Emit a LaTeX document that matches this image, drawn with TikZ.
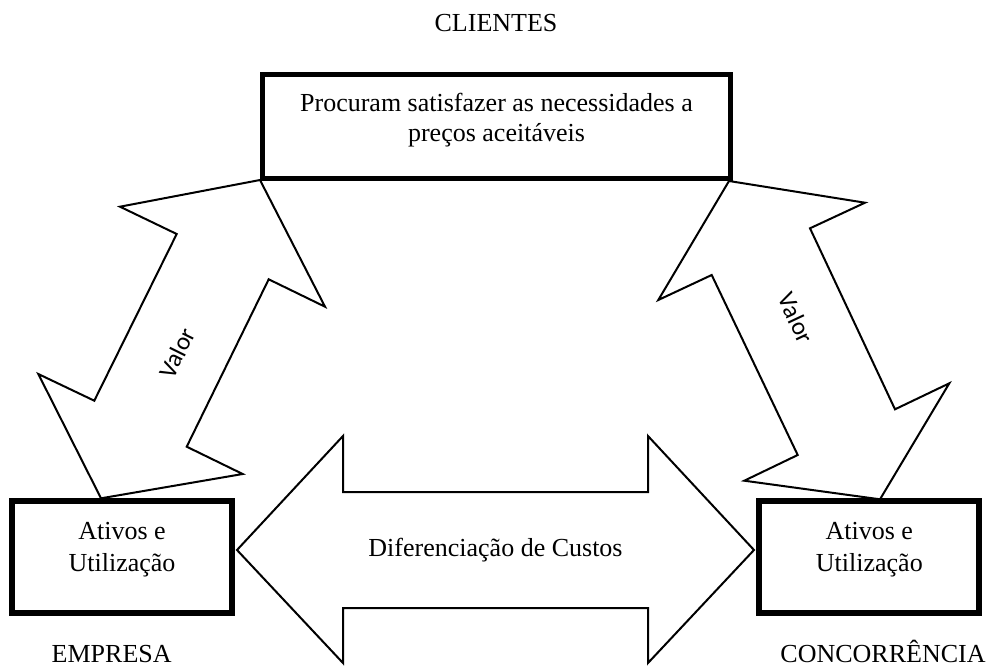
\documentclass[tikz,border=0pt]{standalone}
\usepackage{fontspec}
\setmainfont{Liberation Serif}
\newfontfamily\valorfont{Carlito}
\begin{document}
\begin{tikzpicture}[x=1pt,y=-1pt,
  box/.style={draw, inner sep=0pt, fill=white},
  fat/.style={draw, line width=2pt, fill=white, line join=miter},
  lbl/.style={inner sep=0pt, align=center, font=\fontsize{26}{30}\selectfont},
  vlbl/.style={inner sep=0pt, font=\valorfont\fontsize{25}{28}\selectfont}]
\useasboundingbox (0,0) rectangle (993,667);

% fat double arrows
\draw[fat] (260,180) -- (120,206.7) -- (176.7,234) -- (94.3,400.7) -- (38.3,374)
  -- (101,498.3) -- (242.7,474) -- (186.7,446.7) -- (268.7,279.3) -- (325,306.7) -- cycle;
\draw[fat] (729,181) -- (865,202.7) -- (810,228.3) -- (895,409.3) -- (949.3,383.3)
  -- (880,499.3) -- (744.3,480.7) -- (797.7,455) -- (711.7,275) -- (658.3,300) -- cycle;
\draw[fat] (237,550) -- (343,436) -- (343,492) -- (648,492) -- (648,436) -- (754,550)
  -- (648,663) -- (648,608) -- (343,608) -- (343,663) -- cycle;

% boxes
\node[box, line width=5pt, minimum width=468pt, minimum height=104pt] (top) at (496.5,126) {};
\node[box, line width=6pt, minimum width=220pt, minimum height=112pt] (emp) at (122,557) {};
\node[box, line width=6pt, minimum width=220pt, minimum height=112pt] (conc) at (869.3,557) {};

% texts
\node[lbl] (toptxt) at (496.5,120.6) {Procuram satisfazer as necessidades a\\preços aceitáveis};
\node[lbl, font=\fontsize{26}{31.7}\selectfont] (emptxt) at (122,549.5) {Ativos e\\Utilização};
\node[lbl, font=\fontsize{26}{31.7}\selectfont] (conctxt) at (869.3,549.5) {Ativos e\\Utilização};
\node[lbl, anchor=base] (dif) at (495.5,556.7) {Diferenciação de Custos};
\node[lbl, anchor=base] (cli) at (496,31.7) {CLIENTES};
\node[lbl, anchor=base, text depth=0pt] (empl) at (111.7,662) {EMPRESA};
\node[lbl, anchor=base, text depth=0pt] (concl) at (883,662) {CONCORRÊNCIA};
\node[vlbl, rotate=63.6] (v1) at (177,353) {Valor};
\node[vlbl, rotate=-64.8] (v2) at (796,318) {Valor};
\end{tikzpicture}
\end{document}
